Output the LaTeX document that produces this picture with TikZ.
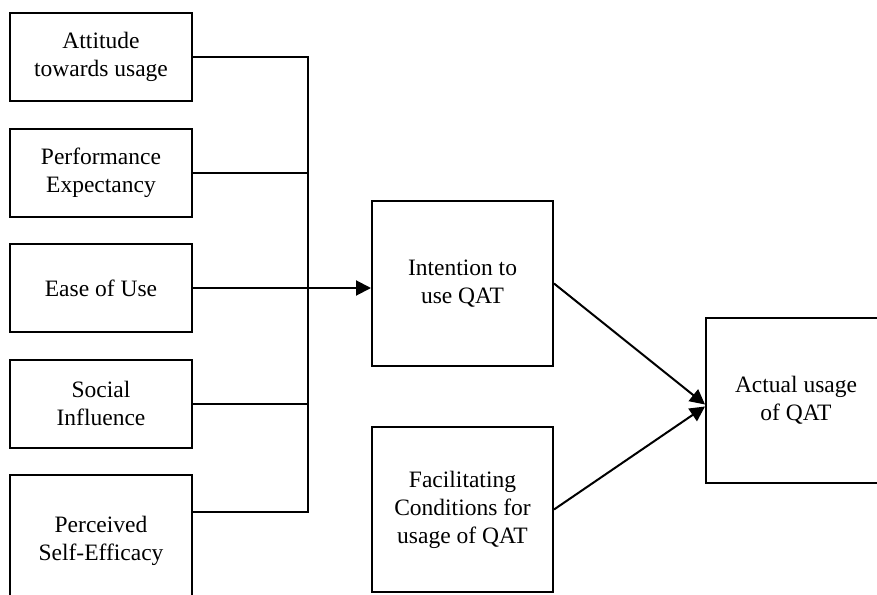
\documentclass[tikz,border=0pt]{standalone}
\usepackage{fontspec}
\setmainfont{Liberation Serif}
\usetikzlibrary{positioning,arrows.meta}

\begin{document}
\begin{tikzpicture}[x=1pt, y=1pt, node distance=25.5pt, line width=2pt,
  font=\fontsize{23.5}{28}\selectfont,
  box/.style={draw, align=center, inner sep=0pt, minimum width=182pt, minimum height=88pt},
  bigbox/.style={box, minimum width=181pt, minimum height=165pt},
  arr/.style={-{Triangle[length=15pt,width=15pt]}}]
\useasboundingbox (0,0) rectangle (877,-594);
\clip (0,0) rectangle (877,-594);
% factors
\node[box] (att) at (101,-57) {Attitude\\towards usage};
\node[box, below=of att] (perf) {Performance\\Expectancy};
\node[box, below=of perf] (ease) {Ease of Use};
\node[box, below=of ease] (soc) {Social\\Influence};
\node[box, below=of soc, minimum height=132pt] (self) {Perceived\\Self-Efficacy};
\coordinate (bus) at (308,0);
\coordinate (selfout) at ([yshift=-38pt]self.north east);
\draw (att.east) -- (att.east -| bus) -- (selfout -| bus) -- (selfout);
\draw (perf.east) -- (perf.east -| bus);
\draw (soc.east) -- (soc.east -| bus);
% outcomes
\node[bigbox] (int) at (462.5,-283.5) {Intention to\\use QAT};
\node[bigbox] (fac) at (462.5,-509.5) {Facilitating\\Conditions for\\usage of QAT};
\node[bigbox, minimum width=180pt] (act) at (796,-400.5) {Actual usage\\of QAT};
\draw[arr] (ease.east) -- (ease.east -| int.west);
\draw[arr] (int.east) -- ([yshift=-4pt]act.west);
\draw[arr] (fac.east) -- ([yshift=-6pt]act.west);
\end{tikzpicture}
\end{document}
